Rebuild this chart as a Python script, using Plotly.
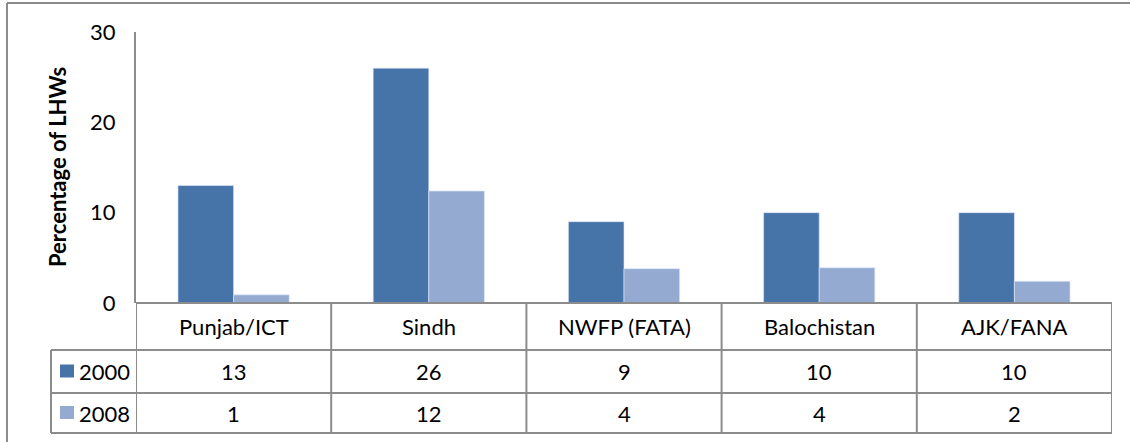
import plotly.graph_objects as go

categories = ["Punjab/ICT", "Sindh", "NWFP (FATA)", "Balochistan", "AJK/FANA"]
series_names = ["2000", "2008"]
values_2000 = [13, 26, 9, 10, 10]
values_2008 = [0.9, 12.4, 3.8, 3.9, 2.4]
y_ticks = [0, 10, 20, 30]

W, H = 1130, 442
C2000 = "#4674A8"
C2008 = "#95AAD1"
GRID = "#8c8c8c"
FONT = "Lato"
FS = 22

def px(x):
    return x / W

def py(y):
    return 1 - y / H

x_left, x_right = 136, 1112
y_zero, y_top = 303, 32
row_lines = [350, 393, 433]

fig = go.Figure()
for name, vals, col in [(series_names[0], values_2000, C2000), (series_names[1], values_2008, C2008)]:
    fig.add_trace(go.Bar(x=categories, y=vals, name=name,
                         marker=dict(color=col, line=dict(color="rgba(220,230,250,0.8)", width=0.8))))

shapes = []
line = dict(color=GRID, width=2)
shapes.append(dict(type="line", xref="paper", yref="paper", x0=px(7), x1=1.0, y0=py(3), y1=py(3), line=line))
shapes.append(dict(type="line", xref="paper", yref="paper", x0=px(7), x1=px(7), y0=py(3), y1=0, line=line))
shapes.append(dict(type="line", xref="paper", yref="paper", x0=px(x_left), x1=px(x_right), y0=py(y_zero), y1=py(y_zero), line=line))
for r in row_lines:
    shapes.append(dict(type="line", xref="paper", yref="paper", x0=px(51), x1=px(x_right), y0=py(r), y1=py(r), line=line))
shapes.append(dict(type="line", xref="paper", yref="paper", x0=px(51), x1=px(51), y0=py(row_lines[0]), y1=py(row_lines[-1]), line=line))
for i in range(len(categories) + 1):
    shapes.append(dict(type="line", xref="x", yref="paper", x0=i - 0.5, x1=i - 0.5,
                       y0=py(y_zero), y1=py(row_lines[-1]), line=line))
for k, col in enumerate([C2000, C2008]):
    yc = (row_lines[k] + row_lines[k + 1]) / 2
    shapes.append(dict(type="rect", xref="paper", yref="paper", x0=px(60), x1=px(74),
                       y0=py(yc - 7), y1=py(yc + 6), fillcolor=col, line=dict(width=0)))

annotations = []
tfont = dict(family=FONT, size=FS, color="black")
header_y = (y_zero + row_lines[0]) / 2
for i, c in enumerate(categories):
    annotations.append(dict(x=i, y=py(header_y), xref="x", yref="paper", text=c, showarrow=False,
                            font=tfont, xanchor="center", yanchor="middle"))
for k, vals in enumerate([values_2000, values_2008]):
    yc = (row_lines[k] + row_lines[k + 1]) / 2
    annotations.append(dict(x=px(77), y=py(yc), xref="paper", yref="paper", text=series_names[k],
                            showarrow=False, font=tfont, xanchor="left", yanchor="middle"))
    for i, v in enumerate(vals):
        annotations.append(dict(x=i, y=py(yc), xref="x", yref="paper", text=f"{v:.0f}", showarrow=False,
                                font=tfont, xanchor="center", yanchor="middle"))
annotations.append(dict(x=px(57), y=py(167), xref="paper", yref="paper", text="<b>Percentage of LHWs</b>",
                        textangle=-90, showarrow=False, font=dict(family=FONT, size=FS, color="black"),
                        xanchor="center", yanchor="middle"))

fig.update_layout(
    width=W, height=H, autosize=False,
    margin=dict(l=0, r=0, t=0, b=0, pad=0, autoexpand=False),
    paper_bgcolor="white", plot_bgcolor="white",
    barmode="group", bargap=0.43, bargroupgap=0,
    showlegend=False,
    font=dict(family=FONT, size=FS, color="black"),
    xaxis=dict(domain=[px(x_left), px(x_right)], showticklabels=False, showgrid=False, automargin=False,
               zeroline=False, showline=False, ticks="", range=[-0.5, len(categories) - 0.5]),
    yaxis=dict(domain=[py(y_zero), py(y_top)], range=[0, 30], tickvals=y_ticks, automargin=False,
               showgrid=False, zeroline=False, showline=True, linecolor=GRID, linewidth=2,
               ticks="", ticklabelstandoff=14, tickfont=dict(family=FONT, size=FS, color="black")),
    shapes=shapes, annotations=annotations,
)

fig.write_html("out.html", config={"displayModeBar": False, "responsive": False},
               post_script="document.body.style.margin='0';document.body.style.overflow='hidden';")
